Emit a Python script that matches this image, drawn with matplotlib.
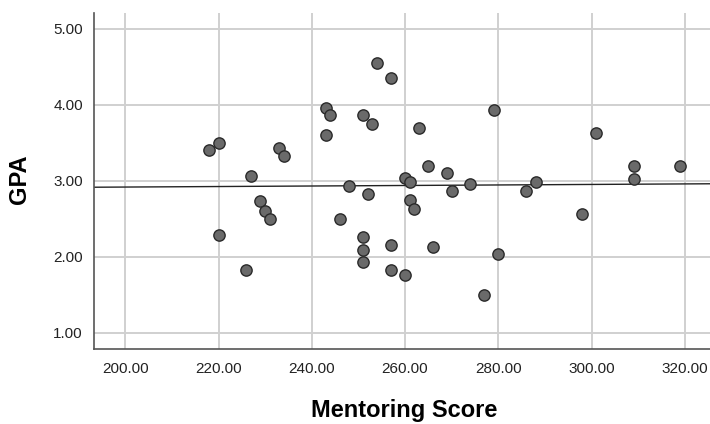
import matplotlib
matplotlib.use("Agg")
import matplotlib.pyplot as plt
import numpy as np

mentoring = [218, 220, 243, 244, 243, 233, 234, 227, 248, 229, 230, 231, 246, 220, 226,
             251, 251, 251, 257, 257, 260, 266, 277, 280, 298, 261, 262, 254, 257, 251,
             253, 263, 279, 301, 265, 269, 309, 319, 309, 260, 261, 252, 270, 274, 286, 288]
gpa = [3.40, 3.50, 3.96, 3.86, 3.60, 3.43, 3.32, 3.06, 2.93, 2.73, 2.60, 2.49, 2.49, 2.29, 1.83,
       2.26, 2.09, 1.93, 2.16, 1.83, 1.76, 2.13, 1.50, 2.03, 2.56, 2.75, 2.63, 4.55, 4.35, 3.86,
       3.75, 3.69, 3.93, 3.63, 3.20, 3.10, 3.20, 3.20, 3.02, 3.03, 2.99, 2.83, 2.86, 2.96, 2.86, 2.99]
x_ticks = [200, 220, 240, 260, 280, 300, 320]
y_ticks = [1, 2, 3, 4, 5]

plt.rcParams['font.family'] = ['Liberation Sans', 'DejaVu Sans']

fig = plt.figure(figsize=(7.10, 4.24), dpi=100)
ax = fig.add_axes([0.1324, 0.1762, 0.8676, 0.7931])

xlim = (193.3, 325.4)
ylim = (0.78, 5.21)
ax.set_xlim(*xlim)
ax.set_ylim(*ylim)

ax.set_xticks(x_ticks)
ax.set_yticks(y_ticks)
ax.set_xticklabels([f"{v:.2f}" for v in x_ticks])
ax.set_yticklabels([f"{v:.2f}" for v in y_ticks])
ax.tick_params(axis='both', length=0, labelsize=11, colors='#222222')
ax.tick_params(axis='x', pad=9)
ax.tick_params(axis='y', pad=8)

ax.grid(True, color='#d0d0d0', linewidth=1.4)
ax.set_axisbelow(True)

for s in ['top', 'right']:
    ax.spines[s].set_visible(False)
for s in ['left', 'bottom']:
    ax.spines[s].set_color('#555555')
    ax.spines[s].set_linewidth(1.2)

x = np.array(mentoring, dtype=float)
y = np.array(gpa, dtype=float)
slope, intercept = np.polyfit(x, y, 1)
xs = np.array(xlim)
ax.plot(xs, intercept + slope * xs, color='#222222', linewidth=1.0, zorder=2)

ax.scatter(x, y, s=66, facecolor='#6a6a6a', edgecolor='#2a2a2a', linewidth=1.0, zorder=3)

fig.text(404.5 / 710, (424 - 417.5) / 424, 'Mentoring Score', fontsize=17,
         fontweight='bold', ha='center', va='baseline')
fig.text(19.5 / 710, 1 - 179 / 424, 'GPA', fontsize=17, fontweight='bold',
         ha='center', va='center', rotation=90)

fig.savefig('out.png', dpi=100)
